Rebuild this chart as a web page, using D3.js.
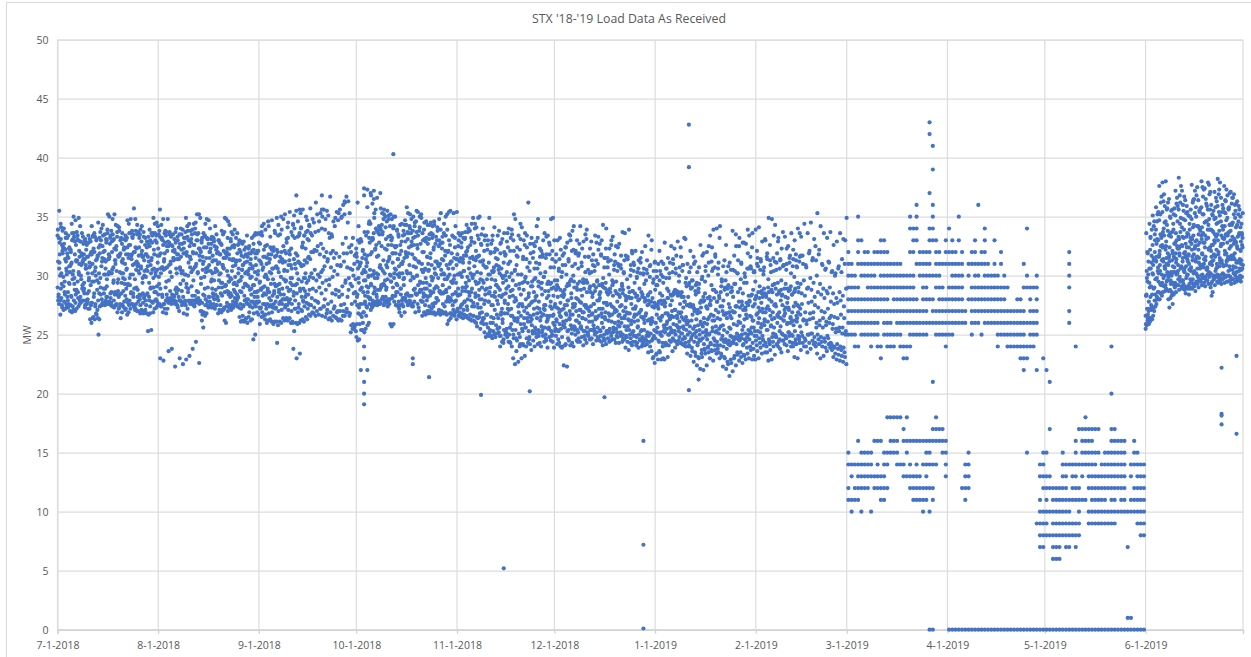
<!DOCTYPE html>
<html><head><meta charset="utf-8">
<script src="https://cdn.jsdelivr.net/npm/d3@7"></script>
<style>html,body{margin:0;background:#fff}svg{display:block}text{font-family:"Open Sans","Liberation Sans",sans-serif;fill:#595959}</style>
</head><body><div id="c"></div>
<script>
const chartTitle="STX '18-'19 Load Data As Received";
const yTicks=[0,5,10,15,20,25,30,35,40,45,50];
const monthTicks=["2018-07-01","2018-08-01","2018-09-01","2018-10-01","2018-11-01","2018-12-01","2019-01-01","2019-02-01","2019-03-01","2019-04-01","2019-05-01","2019-06-01","2019-07-01"];
// Readings by month, one row per day
const jul18=[
[29.0,27.6,26.7,28.2,31.8,33.9,35.5,34.4,33.2,30.0,27.9,31.1],
[28.9,27.3,27.1,29.3,32.4,34.1,33.8,34.0,32.6,29.9,28.1,31.9],
[27.8,27.2,27.4,28.4,30.6,32.3,33.6,33.2,32.2,30.4,29.5,31.2],
[28.2,27.6,27.0,27.3,29.3,31.6,32.3,32.2,31.5,30.3,28.6,30.8],
[27.5,26.9,27.1,28.2,30.1,32.0,33.6,35.0,34.4,33.1,31.0,29.7],
[27.9,27.0,27.2,28.8,31.3,33.3,34.7,33.7,32.9,31.2,29.8,28.4],
[28.6,27.4,27.9,28.6,31.0,33.1,34.9,34.2,33.0,31.6,29.5,30.1],
[28.2,27.8,27.9,29.7,31.2,32.9,33.6,32.7,31.9,31.1,30.0,28.9],
[28.7,27.3,27.6,28.5,30.9,31.8,33.1,32.8,31.4,30.6,29.4,27.9],
[27.6,27.2,27.2,28.0,29.8,31.6,32.8,33.1,31.6,30.7,28.5,29.6],
[26.3,26.0,26.4,27.5,30.2,31.8,34.2,33.4,32.0,31.0,29.2,27.7],
[26.5,26.3,26.8,28.5,30.7,32.3,33.3,33.0,32.0,30.0,29.5,27.4],
[26.7,26.4,26.3,27.1,29.4,31.4,34.5,33.2,31.7,30.2,28.8,25.0],
[27.4,27.5,27.7,29.0,31.2,32.6,34.0,34.3,33.0,31.5,29.8,28.0],
[27.6,27.7,27.9,28.5,30.1,32.0,33.5,33.1,31.4,30.6,28.9,27.5],
[28.2,27.7,27.6,28.2,31.4,33.0,35.2,35.0,33.6,31.8,29.7,30.1],
[27.8,27.5,27.4,28.5,30.2,32.7,33.8,34.8,33.4,32.0,30.2,28.6],
[27.4,27.3,27.5,29.6,31.3,33.0,35.2,34.3,33.1,31.3,29.4,28.4],
[27.5,26.9,27.2,28.4,29.7,32.5,34.2,34.1,33.7,31.6,30.4,28.7],
[27.3,26.4,26.9,27.6,29.4,31.7,33.2,33.6,33.0,31.2,30.3,28.5],
[27.5,27.3,27.1,28.7,29.7,31.4,32.4,33.4,32.2,31.0,30.2,29.3],
[27.2,26.7,26.9,28.0,29.3,31.8,34.7,34.4,33.2,31.8,30.5,29.2],
[27.5,27.2,27.6,29.2,31.7,33.6,34.8,33.8,32.6,31.4,29.8,28.5],
[27.6,27.4,27.1,28.5,31.0,33.2,35.7,34.8,33.5,32.0,30.1,28.9],
[27.2,27.0,27.8,29.0,30.8,33.8,34.3,33.7,32.3,31.0,30.5,28.2],
[27.0,26.8,27.1,28.4,30.6,32.4,33.9,34.2,33.5,31.8,30.2,28.3],
[27.0,26.8,27.0,28.5,30.0,31.6,33.3,32.6,31.6,30.4,29.8,28.1],
[27.1,26.8,25.3,27.5,30.4,31.8,32.9,33.3,31.8,30.8,29.9,28.4],
[26.7,26.8,25.4,27.9,29.0,31.2,33.0,33.6,32.5,30.2,29.4,28.9],
[27.8,26.9,27.2,29.0,30.6,32.8,34.9,34.4,33.6,31.8,30.5,29.0],
[27.9,27.3,27.5,28.6,30.5,33.0,34.5,34.2,33.4,31.7,30.0,29.1]];
const aug18=[
[28.4,27.6,27.4,29.3,30.6,33.5,35.6,34.3,33.8,31.9,29.9,23.0],
[27.4,26.9,27.6,28.2,30.5,33.2,34.8,33.6,33.0,31.2,30.7,22.8],
[27.2,26.8,27.2,29.0,30.7,32.8,33.7,34.8,33.4,32.1,30.6,28.4],
[27.8,27.9,28.1,29.6,30.3,32.5,33.7,33.3,32.8,31.0,23.6,28.0],
[27.6,27.9,28.2,28.4,31.5,32.6,33.5,33.1,32.5,31.3,23.8,27.9],
[27.9,27.8,27.5,28.8,30.2,32.0,34.0,33.3,32.8,31.4,22.3,29.0],
[27.3,27.0,27.9,28.2,30.7,31.8,33.5,34.0,32.4,30.5,28.8,23.0],
[27.8,27.7,26.8,28.7,29.6,32.2,33.9,33.2,32.7,31.9,30.2,22.5],
[27.7,27.5,26.7,27.9,29.3,31.9,34.9,34.2,33.7,32.0,30.1,22.9],
[27.2,27.9,27.6,28.9,31.6,33.8,34.4,33.8,33.0,31.6,30.0,23.2],
[27.8,27.6,27.5,29.1,30.5,32.8,33.9,34.4,33.5,31.9,30.3,23.8],
[27.9,27.7,28.0,28.3,31.0,32.6,34.5,35.2,34.0,33.0,30.7,24.4],
[27.8,27.7,27.9,28.6,31.7,33.0,35.2,34.9,33.6,32.3,30.3,22.6],
[27.0,26.2,25.6,27.0,30.5,32.0,33.2,33.6,32.8,31.0,29.8,26.7],
[26.9,26.6,26.8,28.3,30.3,32.4,34.4,34.8,33.4,31.5,29.9,28.0],
[27.5,27.3,27.8,29.0,30.9,33.1,34.7,34.0,33.1,32.0,30.7,28.2],
[27.4,27.3,28.2,29.5,30.2,32.3,33.3,33.2,32.7,31.7,30.4,28.9],
[27.6,27.2,27.5,28.0,30.6,33.1,34.2,33.5,32.5,31.3,29.6,28.4],
[27.5,26.8,27.1,28.2,29.6,31.9,33.0,32.8,32.0,31.1,30.4,29.0],
[27.0,26.9,27.1,28.5,29.4,31.8,33.8,33.5,32.7,30.9,30.2,29.0],
[27.1,26.2,26.0,27.2,29.2,31.5,34.9,34.8,33.7,31.9,30.6,29.1],
[27.4,27.0,27.3,28.7,29.5,32.0,34.6,34.3,33.2,31.8,30.4,28.6],
[27.5,27.1,27.3,28.5,30.4,32.3,33.7,33.5,32.9,31.3,29.8,28.3],
[27.8,27.5,27.7,28.8,29.9,31.4,33.9,33.2,32.6,30.9,29.3,28.1],
[27.6,27.4,27.3,28.4,29.5,31.2,32.6,33.0,31.9,30.6,29.2,28.2],
[26.5,26.1,26.2,27.6,29.9,31.3,32.9,32.7,32.0,30.5,29.6,28.6],
[26.6,26.1,26.3,27.5,29.3,30.9,32.2,32.4,31.6,30.2,29.0,27.9],
[26.4,26.0,26.5,27.7,29.1,30.3,31.6,31.9,31.2,30.1,29.2,28.0],
[26.9,26.2,26.3,27.4,28.9,30.6,31.9,32.1,31.0,29.9,28.8,27.8],
[27.3,26.8,25.0,24.6,28.6,30.8,33.4,33.6,32.2,30.3,29.2,27.6],
[27.4,26.9,26.7,27.8,28.7,30.9,32.1,33.6,31.9,30.4,29.7,28.2]];
const sep18=[
[27.8,27.2,26.5,25.9,28.8,31.3,33.5,34.2,32.7,31.0,29.4,27.3],
[26.9,26.6,26.3,27.6,29.1,30.5,32.2,32.5,31.6,29.9,29.0,28.5],
[26.7,26.0,26.2,27.2,28.9,30.1,31.5,31.8,31.0,29.7,28.4,27.6],
[26.8,26.3,26.1,27.4,29.3,31.1,32.4,32.2,31.4,30.2,28.6,27.5],
[26.9,25.9,26.1,27.3,28.7,30.6,32.1,31.6,30.6,29.3,28.3,27.6],
[27.2,26.1,25.8,27.3,29.2,30.7,32.2,33.4,31.7,30.6,29.1,24.3],
[27.0,26.1,26.0,27.6,28.4,30.3,31.6,32.0,31.2,29.9,28.8,27.8],
[27.1,26.4,26.2,28.0,29.7,31.4,32.5,32.1,31.1,30.4,28.9,28.0],
[27.3,26.4,26.2,27.5,29.0,31.2,32.8,33.2,31.9,30.4,29.5,28.1],
[27.1,26.4,26.0,27.7,29.4,30.9,31.8,32.3,31.3,29.8,28.7,28.0],
[27.0,26.0,25.3,26.1,28.6,30.6,34.3,34.0,33.4,31.4,29.8,23.8],
[27.2,26.0,25.9,27.2,29.3,31.0,36.8,33.3,31.9,30.2,29.2,23.0],
[26.9,26.0,26.2,27.6,28.7,31.2,35.6,34.0,33.4,31.0,29.7,23.4],
[27.1,26.3,26.1,27.0,28.9,30.8,32.8,33.4,32.5,30.9,29.5,27.9],
[27.4,26.5,26.3,28.2,29.4,31.3,33.7,33.1,32.3,31.1,29.8,28.4],
[27.2,26.7,26.6,27.6,29.9,31.5,34.2,33.6,33.0,31.4,29.6,28.8],
[27.5,26.9,26.8,28.1,29.8,32.0,34.8,34.5,33.4,32.0,30.2,28.9],
[27.3,26.6,27.0,27.9,29.6,32.2,36.2,35.2,33.7,32.1,30.5,28.7],
[27.8,26.7,27.2,27.7,29.9,32.5,34.6,35.3,33.8,31.8,30.1,29.0],
[27.2,26.6,27.4,28.5,30.5,32.7,35.0,35.6,34.0,32.3,30.3,29.4],
[27.4,26.5,26.8,28.0,29.6,31.6,34.8,35.5,33.9,32.0,30.8,28.8],
[27.1,26.3,26.4,27.6,29.7,31.2,33.6,36.7,35.1,33.2,31.4,29.2],
[26.9,26.2,26.6,27.8,29.9,31.9,33.3,34.6,33.5,32.1,30.7,28.5],
[27.2,26.5,26.4,27.4,28.8,31.5,34.9,35.4,34.2,31.9,30.4,28.4],
[26.9,26.2,26.3,27.0,28.2,30.9,35.3,35.6,34.7,31.6,30.1,28.7],
[27.0,26.2,26.6,27.5,29.1,30.8,35.0,36.0,34.9,32.7,30.9,28.4],
[27.0,26.6,26.9,27.6,29.6,31.9,36.2,36.7,35.2,33.2,31.2,29.4],
[27.2,26.9,26.6,28.2,29.8,31.9,36.3,35.3,34.5,32.4,30.7,28.8],
[26.8,25.8,25.5,25.2,29.1,30.6,32.6,33.2,32.0,30.5,29.3,27.6],
[25.9,25.7,25.3,25.5,28.6,30.0,31.7,32.3,31.0,29.7,28.5,27.8]];
const oct18=[
[24.8,24.5,24.6,27.5,29.8,31.6,33.0,32.8,31.2,29.4,28.2,26.8],
[25.9,25.4,25.4,26.7,29.0,31.0,32.9,32.1,31.1,30.2,28.8,27.6],
[26.0,25.2,25.5,26.9,28.3,30.3,31.8,31.4,30.5,29.6,28.6,27.6],
[26.6,25.8,26.0,27.3,29.0,30.8,33.7,33.2,31.7,30.0,29.1,28.2],
[27.6,27.1,27.3,28.1,30.0,32.8,36.8,36.1,34.4,32.0,30.5,29.2],
[27.9,27.5,27.7,28.5,29.8,33.1,35.3,35.6,33.6,32.2,30.1,29.0],
[27.8,27.5,27.7,28.2,30.1,32.6,33.8,34.2,33.8,31.7,30.2,28.8],
[27.6,27.7,28.0,28.8,30.6,33.5,35.7,35.3,34.0,32.5,30.7,29.0],
[28.1,27.5,27.9,29.3,30.2,33.7,35.6,35.0,34.8,32.3,30.4,29.2],
[28.2,27.7,28.0,29.0,31.2,33.1,35.5,35.1,34.6,32.6,30.9,29.7],
[27.9,25.9,25.7,28.0,29.5,31.4,35.2,34.8,34.2,33.0,31.6,30.0],
[28.1,25.9,28.3,29.0,30.2,31.9,35.0,35.0,34.0,32.5,31.1,29.8],
[28.3,27.5,27.4,28.6,30.1,31.9,33.9,33.5,32.5,31.4,30.5,29.2],
[27.8,27.5,26.6,26.9,28.4,30.8,32.6,32.9,31.8,31.0,29.9,28.9],
[27.9,27.4,26.9,28.1,29.8,31.0,33.8,34.3,33.4,31.5,30.2,29.2],
[28.1,27.8,27.5,28.4,30.2,32.9,35.8,35.3,34.3,33.7,32.0,31.6],
[27.7,27.9,27.5,28.3,29.6,31.9,35.2,34.8,34.2,33.6,32.4,30.2],
[28.3,27.4,27.8,27.6,29.8,32.6,35.0,34.2,33.8,32.6,31.8,30.8],
[28.9,28.4,27.6,28.5,30.0,33.3,35.5,35.4,34.6,32.6,31.4,30.0],
[29.2,28.6,27.9,27.0,28.8,31.2,35.0,35.2,33.8,32.7,31.2,29.5],
[28.8,27.8,26.9,26.6,28.5,30.5,33.0,34.5,33.6,32.0,31.0,29.4],
[28.9,28.3,27.0,26.7,27.9,30.5,33.2,34.3,32.9,31.6,30.6,29.4],
[28.2,27.4,26.9,27.0,28.7,31.0,34.3,34.5,33.1,31.5,30.4,29.2],
[28.5,27.6,26.9,26.8,27.4,29.9,33.5,34.6,33.2,32.2,30.9,29.8],
[28.9,27.7,26.8,26.7,28.1,30.6,33.3,34.1,32.7,31.2,30.2,29.1],
[29.0,27.1,26.7,26.9,28.6,31.0,33.0,33.9,32.5,31.0,29.8,28.7],
[28.5,26.9,26.8,27.0,28.5,30.5,32.8,33.6,32.3,31.3,30.1,29.2],
[28.6,26.9,26.7,26.8,27.8,30.1,33.4,35.2,32.1,30.9,29.7,28.6],
[25.9,26.2,26.8,28.2,30.1,32.0,33.0,35.5,32.1,31.0,29.9,29.0],
[26.4,26.7,27.1,27.9,29.4,31.2,33.4,35.3,31.9,30.6,29.5,28.4],
[26.7,26.9,26.3,27.8,29.4,31.5,34.2,35.4,33.2,31.4,30.0,28.6]];
const nov18=[
[27.0,26.6,26.7,28.3,30.1,31.8,33.0,33.4,32.5,31.2,30.1,28.4],
[27.3,26.8,26.4,27.5,29.0,31.5,33.6,33.2,32.4,31.4,30.2,28.7],
[27.1,26.5,26.6,27.8,29.4,31.7,33.7,34.3,33.1,32.0,30.4,29.0],
[27.4,26.4,26.3,28.0,29.6,32.1,34.0,33.8,32.4,31.1,29.9,28.6],
[26.7,26.2,26.6,27.9,30.0,32.6,34.4,34.9,33.2,31.6,30.2,28.9],
[26.6,26.1,26.0,27.4,29.5,31.4,34.4,34.1,32.8,31.3,30.1,28.5],
[26.5,26.4,26.5,27.6,29.4,31.6,34.9,35.0,33.4,31.7,30.3,28.3],
[26.8,26.0,26.2,27.3,29.0,31.2,33.5,34.0,32.7,31.2,29.7,28.0],
[26.4,25.2,24.8,26.4,28.8,30.9,33.0,33.4,32.1,30.7,29.4,27.9],
[25.9,25.0,24.9,26.7,28.5,30.7,33.0,34.9,32.6,31.1,29.7,27.8],
[25.2,24.9,24.7,26.0,28.3,30.1,32.7,33.4,32.0,30.4,29.0,27.5],
[26.0,25.0,24.8,26.4,28.6,30.3,32.0,31.5,30.7,29.6,28.3,27.1],
[25.8,25.5,25.2,26.7,29.0,30.9,33.4,33.8,32.2,30.5,29.2,27.6],
[25.6,24.9,24.4,24.0,28.2,30.2,32.8,33.1,31.9,30.0,28.8,26.9],
[26.0,25.4,25.0,24.3,27.9,29.8,32.0,31.8,31.1,30.0,28.4,26.8],
[25.2,24.8,24.4,25.5,27.6,29.6,33.6,34.0,32.9,31.0,28.9,27.2],
[25.0,24.3,24.0,25.6,27.2,29.9,33.2,33.5,32.1,30.2,28.2,26.6],
[25.4,24.7,22.5,23.0,26.2,28.8,35.2,34.8,33.0,30.4,28.3,26.4],
[25.4,24.5,22.7,23.6,26.4,29.2,32.4,33.4,31.7,30.1,27.9,26.1],
[25.1,24.2,23.0,24.0,26.6,28.9,34.4,34.1,32.2,30.1,27.6,25.9],
[25.5,24.1,23.2,24.2,27.0,29.4,33.0,33.6,31.6,29.5,27.4,25.9],
[25.6,24.7,24.3,24.0,26.8,29.9,32.4,36.2,31.4,29.4,28.0,26.4],
[25.3,24.2,23.7,24.8,26.5,28.5,32.7,33.2,31.1,29.1,27.5,26.1],
[25.8,24.5,24.0,25.3,27.2,29.5,32.0,32.5,31.5,29.7,27.8,26.7],
[25.6,24.8,24.2,25.1,27.3,29.8,34.2,34.8,32.9,30.6,28.2,26.4],
[25.4,24.3,24.0,25.2,26.9,29.1,31.6,32.1,31.0,29.4,27.8,26.2],
[25.7,24.9,24.4,25.4,27.2,29.4,33.0,33.6,31.8,29.9,28.4,26.7],
[25.6,24.5,23.9,25.0,26.6,28.7,31.8,33.4,31.5,29.3,27.5,26.1],
[25.5,24.8,24.5,25.6,27.4,29.5,32.6,34.8,32.8,30.7,28.3,26.6],
[25.3,24.4,23.9,25.0,26.7,28.9,34.9,33.0,31.4,29.0,27.2,26.0]];
const dec18=[
[25.8,24.9,24.2,25.5,27.3,29.6,31.8,33.0,31.2,29.2,27.6,26.3],
[25.4,24.3,24.0,25.3,26.6,29.0,31.4,32.2,30.6,28.8,27.2,25.9],
[25.5,24.0,22.4,23.9,26.1,28.3,30.9,31.9,30.3,28.2,27.1,25.8],
[25.9,24.2,22.3,24.1,26.7,28.8,32.4,32.8,30.9,29.1,27.5,26.2],
[25.3,24.5,24.1,25.4,27.0,29.3,33.5,33.0,31.2,29.5,27.9,26.4],
[25.8,24.3,24.0,25.5,27.6,29.7,33.8,34.2,32.1,30.0,28.1,26.7],
[25.7,25.0,24.5,25.6,27.0,29.0,32.1,33.0,31.0,29.0,27.4,26.2],
[25.4,24.7,24.4,25.2,27.1,29.3,31.9,34.2,31.7,29.5,28.0,26.0],
[25.6,24.8,24.1,25.5,26.9,28.8,32.3,32.9,30.8,29.4,27.7,26.4],
[25.3,24.6,24.3,25.3,27.3,28.9,33.5,33.9,31.6,29.6,27.5,26.3],
[25.6,24.9,24.6,25.1,27.0,29.4,31.6,32.3,30.5,28.9,27.2,26.6],
[25.4,24.7,24.2,25.4,26.8,28.6,31.3,31.8,30.3,28.5,27.4,26.1],
[25.8,25.0,24.5,25.3,27.0,29.2,33.4,32.8,30.8,29.0,27.6,26.5],
[25.2,24.7,24.5,25.6,27.2,29.5,32.2,32.7,31.0,29.2,27.9,26.6],
[25.4,24.4,24.1,24.9,26.5,28.6,33.0,34.3,31.7,29.1,27.2,26.0],
[25.6,24.5,24.2,25.0,26.9,29.0,31.5,34.0,31.5,29.4,27.7,26.3],
[25.3,24.7,24.4,25.3,26.8,28.6,31.2,32.3,30.7,28.8,27.5,26.2],
[25.5,24.9,24.6,25.2,26.7,28.9,33.0,33.3,31.3,29.6,27.6,26.1],
[25.2,24.6,24.3,25.4,27.0,29.4,31.8,32.5,30.9,28.7,27.3,26.0],
[25.5,24.8,24.3,25.2,26.6,28.5,31.0,32.7,30.4,28.4,27.0,25.8],
[25.7,24.9,24.4,25.1,26.4,28.2,30.6,33.7,30.9,29.3,27.4,26.0],
[25.0,24.6,23.9,24.7,26.6,28.8,31.3,31.7,30.2,28.3,27.0,25.7],
[24.9,24.4,23.7,24.8,26.3,28.1,31.6,33.9,31.4,29.0,26.9,25.7],
[25.4,24.7,24.1,25.0,26.2,28.6,30.5,31.9,30.0,28.1,26.8,25.9],
[25.2,24.9,24.4,25.3,26.7,28.7,30.9,32.1,30.4,28.5,27.2,26.1],
[24.9,24.3,23.9,24.8,26.2,28.2,30.3,31.3,29.8,27.9,26.7,25.6],
[25.0,24.5,24.0,24.6,26.5,28.0,31.1,32.0,30.2,28.6,26.9,25.3],
[24.8,24.4,24.1,24.7,26.0,28.4,30.6,32.5,30.1,28.1,26.5,25.4],
[24.6,24.2,23.5,24.5,26.2,27.9,30.2,33.4,30.5,28.3,26.8,25.2],
[24.9,24.0,23.6,24.4,25.9,27.6,30.9,33.0,29.9,27.8,26.3,25.1],
[24.5,23.1,22.6,23.0,25.4,27.4,30.4,31.2,29.4,27.7,26.1,24.9]];
const jan19=[
[24.7,23.4,22.9,23.3,25.6,27.5,29.9,31.0,29.2,27.4,26.0,25.2],
[24.5,23.5,22.9,23.6,25.2,27.8,30.4,31.2,29.6,27.9,26.4,25.0],
[24.9,23.0,22.9,24.3,25.8,27.6,31.0,32.8,29.9,27.9,26.6,25.3],
[25.2,24.2,23.1,24.1,26.1,27.7,30.6,31.5,29.8,28.1,26.8,25.5],
[25.0,24.5,24.4,25.0,26.4,28.7,31.1,32.5,30.2,28.4,26.6,25.6],
[25.4,24.7,24.5,25.2,26.5,28.3,31.0,32.3,30.3,28.6,27.0,25.9],
[25.3,24.4,24.2,25.0,26.6,28.8,31.7,32.9,30.6,28.5,27.1,25.8],
[25.6,24.8,24.3,25.3,26.8,28.6,30.7,31.6,30.0,28.4,26.9,25.6],
[25.1,24.6,24.1,25.1,26.3,28.2,30.9,33.2,30.4,28.2,26.5,25.7],
[24.8,24.0,23.4,24.3,25.9,27.8,29.8,31.0,29.4,27.5,26.2,25.4],
[25.0,24.1,23.2,24.0,25.7,27.5,29.4,30.7,29.2,27.6,26.1,25.2],
[24.6,23.6,22.7,23.9,25.5,27.4,29.6,31.0,29.0,27.3,26.2,25.0],
[24.4,23.2,22.4,23.5,25.3,27.0,29.2,30.3,28.7,27.0,25.7,24.8],
[24.1,23.0,22.1,23.1,25.0,27.1,29.3,32.6,28.9,26.9,25.8,24.6],
[24.5,23.1,22.0,23.4,25.2,27.3,31.7,31.9,29.7,27.8,25.9,24.7],
[24.2,23.4,22.4,23.7,25.4,27.9,30.8,32.0,29.5,27.4,26.0,24.9],
[24.6,23.5,23.0,23.9,25.1,27.2,32.5,33.4,30.0,28.2,26.3,25.0],
[24.3,23.6,22.8,23.7,25.6,27.9,30.4,33.9,31.2,28.8,26.7,25.3],
[24.7,23.7,23.4,24.1,25.7,28.1,31.6,34.0,30.7,28.6,26.2,25.2],
[24.4,23.5,23.0,23.8,25.5,27.8,31.1,34.2,30.6,28.1,26.4,25.1],
[24.1,23.2,22.3,23.4,24.9,27.4,29.5,30.8,29.1,27.0,25.7,24.6],
[24.0,23.0,22.1,23.1,24.6,26.7,29.0,30.3,28.8,26.8,25.4,24.4],
[23.8,22.5,21.5,22.7,24.5,26.4,29.2,31.1,28.9,26.9,25.2,24.2],
[24.1,22.6,21.9,22.9,24.8,26.6,29.0,30.5,28.6,27.0,25.5,24.3],
[24.3,23.2,22.4,23.0,24.7,26.9,30.4,32.5,29.3,27.4,25.9,24.8],
[24.2,23.3,22.8,23.5,24.9,27.4,31.3,33.2,30.2,27.8,25.8,24.6],
[24.5,23.1,22.6,23.5,25.0,27.3,31.0,32.8,29.7,27.5,26.0,24.7],
[24.1,23.2,22.9,23.3,25.1,27.1,30.2,32.7,29.4,27.3,25.7,24.6],
[24.4,23.4,23.0,23.9,25.4,27.7,31.9,33.4,30.6,28.3,26.4,25.0],
[24.6,23.7,22.9,24.0,25.6,27.8,30.6,33.6,30.8,28.4,26.6,25.1],
[24.3,23.2,22.9,23.8,25.3,27.4,30.3,33.9,30.3,28.0,26.2,24.9]];
const feb19=[
[24.5,23.6,23.0,24.1,26.0,28.3,31.5,34.1,31.0,28.6,26.7,25.3],
[24.7,23.9,23.4,24.3,25.9,28.1,31.2,32.9,30.5,28.7,27.0,25.6],
[24.9,24.1,23.5,24.5,26.3,28.2,30.7,33.0,30.4,28.5,26.9,25.8],
[24.3,23.5,22.8,24.0,26.1,28.4,31.4,34.9,31.6,29.0,27.2,25.4],
[24.6,23.7,22.9,24.2,25.8,28.0,30.9,34.8,31.3,28.8,27.1,25.7],
[24.8,24.0,23.3,24.4,26.4,28.6,30.4,34.3,31.5,29.3,26.9,25.6],
[25.0,24.2,24.0,24.8,26.6,28.9,31.9,33.2,31.1,29.4,27.4,26.0],
[24.4,23.8,23.5,24.6,26.4,28.5,31.4,32.3,30.6,28.8,26.9,25.7],
[25.1,24.5,24.2,25.0,26.6,28.4,30.9,33.3,30.8,28.9,27.5,26.2],
[24.9,24.1,23.6,24.7,26.0,28.2,31.0,32.5,30.5,28.9,27.3,25.9],
[25.2,24.4,24.0,24.9,26.5,28.7,31.7,33.6,31.1,29.1,27.1,26.0],
[25.0,24.0,23.1,24.3,26.2,28.4,31.4,33.0,30.8,28.6,26.9,25.8],
[25.3,24.2,23.0,24.6,26.4,28.9,30.8,34.0,31.3,29.4,27.7,26.1],
[24.9,24.3,23.7,24.8,26.7,29.0,31.6,33.3,31.2,29.3,27.4,25.7],
[25.2,24.3,24.0,24.9,26.3,28.5,31.0,34.4,31.7,29.6,27.6,26.2],
[24.7,24.0,23.5,24.5,26.2,28.3,30.7,33.6,30.9,28.9,26.9,25.9],
[25.0,24.3,23.8,25.0,26.8,29.0,32.1,34.5,31.9,29.8,27.7,26.3],
[25.1,24.5,24.2,25.1,26.9,28.8,31.5,33.1,31.3,29.4,27.8,26.4],
[24.8,24.0,23.4,24.3,26.0,28.2,31.3,35.3,32.5,30.0,27.5,25.6],
[25.0,24.2,23.0,24.6,26.2,28.6,32.2,34.2,31.8,29.3,27.3,25.8],
[24.8,24.0,23.2,24.4,26.4,28.4,30.9,33.6,31.0,28.9,27.0,25.6],
[24.7,23.9,23.6,24.4,26.1,28.1,30.6,33.2,30.5,28.7,26.9,25.8],
[24.9,24.2,23.9,24.7,26.4,28.5,31.1,33.7,31.2,29.0,27.2,26.0],
[24.3,23.7,23.1,24.2,25.9,27.8,30.4,32.6,30.3,28.5,26.6,25.5],
[24.0,23.4,22.9,23.9,25.5,27.6,30.2,32.9,30.0,28.1,26.5,25.2],
[24.2,23.3,22.8,23.8,25.6,27.7,30.8,33.6,30.6,28.6,26.4,25.3],
[24.0,23.2,22.7,23.7,25.6,27.9,31.4,33.1,30.3,28.3,26.7,25.1],
[23.9,23.1,22.5,23.5,25.3,27.4,33.0,34.9,31.0,28.9,26.4,25.0]];
const jun19=[
[25.5,25.8,26.2,27.0,28.4,29.5,31.2,33.6,32.0,30.1,28.3,27.2,26.4,25.9,29.8,26.7],
[25.9,26.1,26.4,27.3,29.0,30.6,33.9,34.4,33.3,31.1,29.4,28.2,27.1,26.3,32.2,27.5],
[26.3,26.6,27.0,28.4,30.1,31.3,33.0,35.1,34.2,32.0,30.2,28.9,27.9,27.2,31.5,29.0],
[27.4,27.6,28.1,29.5,31.2,33.1,35.4,35.8,34.6,33.0,31.3,29.8,28.6,27.9,32.7,30.4],
[28.0,28.0,28.5,30.1,31.8,33.5,36.7,37.6,35.2,33.4,31.6,30.4,29.2,28.6,30.9,32.5],
[28.3,28.6,29.1,30.6,32.4,34.0,35.9,37.9,36.3,34.5,32.6,31.2,30.0,29.4,31.4,33.4],
[28.7,28.9,29.6,30.9,32.5,34.3,36.2,38.0,35.6,33.8,32.2,31.0,30.1,29.2,31.5,30.3],
[28.0,27.3,28.1,30.0,31.7,33.6,35.5,36.5,35.0,33.3,31.5,30.2,29.3,28.7,32.4,29.6],
[28.3,27.6,28.4,30.3,32.1,33.9,35.7,35.6,34.4,32.7,31.3,30.3,29.2,28.6,30.8,31.6],
[29.0,28.6,29.2,30.4,31.9,33.0,35.9,37.2,36.1,34.6,32.8,31.4,30.2,29.4,31.1,32.5],
[29.2,28.8,29.5,30.7,32.3,34.4,37.6,38.3,36.8,34.9,33.3,31.7,30.6,29.7,31.9,33.7],
[29.1,28.9,29.3,30.6,32.5,34.8,36.7,37.2,36.0,33.9,32.6,31.5,30.4,29.6,31.2,33.2],
[28.8,28.5,29.0,30.1,31.6,33.3,35.4,36.4,35.3,33.6,32.0,30.8,30.0,29.1,31.7,32.4],
[28.9,28.4,28.9,30.4,31.8,33.9,35.6,35.1,34.4,33.2,31.7,30.5,29.7,29.1,31.0,32.9],
[29.0,28.9,29.3,30.3,32.2,34.1,36.5,37.7,36.2,34.3,32.7,31.3,30.2,29.5,31.6,33.4],
[29.1,28.7,29.5,30.6,32.5,35.0,37.5,37.2,35.8,34.2,32.3,31.2,30.1,29.3,31.4,33.0],
[29.3,29.0,29.7,30.9,32.2,34.0,35.7,36.4,35.5,33.8,32.6,31.5,30.6,29.9,31.1,32.8],
[29.5,29.2,29.8,31.0,33.1,35.2,37.3,38.0,37.5,35.2,33.4,31.8,30.7,30.0,31.9,33.6],
[29.4,29.1,29.6,30.7,32.4,34.6,35.9,37.4,36.5,34.6,32.8,31.6,30.5,29.8,31.3,33.1],
[29.6,29.3,29.9,31.1,33.2,34.8,37.1,37.9,37.7,35.6,33.9,32.2,31.0,30.1,32.3,33.9],
[29.0,28.3,28.6,29.8,31.6,33.8,35.5,36.0,35.2,33.7,32.1,30.9,30.0,29.3,31.2,32.6],
[29.7,29.2,29.9,31.0,32.8,34.9,36.3,37.1,35.8,34.4,33.0,31.7,30.6,30.0,31.6,33.3],
[29.5,29.4,30.0,31.3,33.0,35.4,37.9,38.2,36.9,35.1,33.5,32.0,30.8,30.1,31.8,33.8],
[29.6,29.3,29.7,30.9,32.7,34.2,35.7,36.6,35.4,33.9,32.5,31.1,30.2,29.8,31.3,33.2],
[29.8,29.4,29.9,31.2,33.2,35.3,37.3,37.6,36.4,34.7,33.1,31.8,30.9,30.1,32.1,33.5],
[29.5,29.5,30.0,31.4,33.4,35.6,37.0,36.8,35.7,34.3,32.8,31.6,30.8,30.0,31.5,33.7],
[29.6,29.3,29.7,30.8,32.5,34.3,36.6,37.1,36.1,34.5,33.0,31.4,30.5,29.9,31.7,33.3],
[29.7,29.4,30.0,31.1,33.0,34.9,36.1,36.9,36.0,34.1,32.7,31.9,30.7,30.2,31.4,32.9],
[29.5,29.6,29.8,30.6,32.3,34.6,35.6,36.3,35.2,33.6,32.5,31.2,30.4,29.8,31.2,33.4],
[29.7,29.5,29.9,30.9,32.1,33.6,35.3,35.0,34.4,33.2,32.2,31.3,30.6,30.0,31.0,32.6]];
// Second set of readings, six a day: Jul 2018 to Feb 2019 in day order, then Jun 2019
const midFirstHalf=[
33.4,31.2,28.4,30.6,32.8,27.9, 33.1,30.2,27.5,32.1,34.0,29.1, 32.7,28.6,31.4,33.2,27.6,30.1, 31.9,27.9,33.4,29.4,32.4,30.8,
32.2,28.3,31.1,33.0,27.4,30.4, 33.6,29.3,31.8,27.7,32.6,28.8, 31.3,33.4,28.1,30.3,32.1,27.6, 32.9,27.8,30.9,31.7,29.2,33.3,
31.4,28.9,33.0,27.5,30.6,32.2, 32.6,27.8,30.2,33.4,28.7,31.1, 30.8,32.9,27.7,31.8,29.5,33.3, 32.1,28.2,33.6,30.4,27.6,31.3,
33.1,29.6,31.6,27.9,32.4,28.5, 31.9,33.7,28.4,30.8,27.5,32.5, 33.4,27.7,30.1,32.1,28.9,31.2, 32.8,29.1,33.9,27.6,31.4,30.3,
31.6,33.2,28.1,27.7,32.9,30.5, 33.5,30.7,27.9,32.3,28.6,31.0, 32.2,27.6,33.3,29.4,31.7,28.2, 33.8,28.4,31.9,27.5,30.2,32.7,
31.1,29.8,33.1,27.8,32.3,28.3, 33.0,28.9,30.6,32.4,27.7,31.5, 32.6,27.9,33.6,30.1,28.6,31.8, 33.3,30.9,28.2,32.0,27.4,29.7,
32.4,27.6,31.2,33.5,28.8,30.4, 31.7,33.2,28.0,27.5,30.8,32.9, 32.1,29.4,27.7,33.7,31.3,28.3,
33.2,27.9,30.5,32.4,28.5,31.6, 32.7,28.2,33.9,27.4,30.9,31.3, 31.5,33.4,27.7,29.8,32.2,28.6, 33.6,30.3,28.0,32.8,27.8,31.1,
32.3,27.5,31.7,33.3,28.9,30.2, 33.1,28.4,30.7,32.6,27.6,31.4, 31.9,33.8,27.9,29.5,32.5,28.1, 32.9,27.7,30.9,33.5,28.7,31.2,
33.4,29.9,27.8,32.1,31.5,28.3, 32.2,27.6,33.7,30.6,28.5,31.8, 33.0,28.8,31.4,27.9,32.7,29.3, 31.6,33.5,27.5,30.4,28.2,32.3,
32.8,27.7,30.1,33.2,29.0,31.7, 33.3,28.6,31.1,27.8,32.5,30.7, 31.4,33.1,27.9,28.3,32.0,29.6, 32.6,27.4,33.6,30.8,31.9,28.7,
33.5,30.2,28.1,32.3,27.6,31.3, 32.1,29.3,33.0,27.7,31.6,28.4, 31.2,33.3,28.9,27.5,30.6,32.4, 33.2,27.8,30.4,32.7,28.2,31.5,
32.0,27.6,33.1,29.7,31.2,28.5, 31.3,32.9,27.4,30.3,28.8,32.2, 32.4,28.1,31.0,27.9,33.0,30.1, 31.8,27.5,29.4,32.6,28.3,30.9,
30.7,32.1,27.3,28.6,31.5,29.2, 31.6,27.7,32.3,30.0,28.4,29.5,
31.4,28.2,33.1,29.7,27.5,32.5, 30.8,27.3,32.4,29.4,28.6,31.2, 31.3,27.9,33.6,28.1,30.2,32.7, 32.2,28.7,29.6,27.2,31.7,30.5,
30.9,27.4,32.9,28.3,31.1,29.3, 31.8,28.0,33.4,27.6,30.4,32.3, 32.5,27.5,29.8,31.4,28.4,33.2, 30.6,27.8,32.7,29.2,28.2,31.9,
31.5,28.6,33.5,27.7,30.1,32.1, 32.8,27.3,29.5,31.2,28.9,33.7, 33.4,28.3,30.7,34.4,27.6,31.6, 33.9,27.5,29.9,32.6,28.7,34.6,
34.2,28.1,30.3,33.3,27.9,31.8, 34.7,27.4,29.7,32.4,28.5,33.8, 33.6,27.8,30.8,34.9,28.2,32.0, 34.3,28.6,29.3,33.5,27.7,35.0,
33.9,27.6,31.3,34.8,28.4,30.5, 35.2,28.0,29.6,33.1,27.5,34.1, 34.5,27.9,32.1,35.4,28.8,30.9, 33.7,27.6,29.2,34.4,28.3,35.1,
33.2,27.9,30.6,35.5,28.5,31.7, 34.6,27.3,31.1,33.6,28.9,35.3, 34.1,28.2,32.4,35.6,27.8,29.8, 33.4,28.7,30.2,35.0,27.7,34.7,
33.8,28.4,31.6,34.3,27.5,35.7];
const midSecondHalf=[
31.9,25.9,28.4,30.6,34.2,27.3, 30.8,27.6,33.1,28.9,26.5,31.5, 32.2,26.9,29.6,33.7,27.8,30.3,
33.4,27.4,31.1,28.6,29.9,34.4, 34.6,28.0,31.8,29.3,27.5,33.0, 33.2,27.7,30.4,34.9,28.7,32.3, 34.0,28.4,31.6,29.8,27.9,33.6,
32.8,27.6,30.9,33.9,29.2,34.3, 33.5,28.2,31.3,35.2,27.7,29.6, 34.1,28.8,32.2,30.7,27.4,33.3, 34.8,27.6,30.1,33.4,29.5,32.6,
33.2,28.3,31.9,34.2,27.8,30.6, 32.4,27.5,29.3,33.8,28.6,31.4, 33.3,27.2,30.2,34.3,28.9,32.1, 34.4,27.6,31.2,29.7,28.1,33.5,
34.7,27.9,31.8,30.4,28.5,33.1, 33.6,28.3,30.9,34.0,27.7,32.5, 32.9,27.4,29.9,33.2,28.8,31.5, 34.5,26.9,30.7,33.7,28.4,32.3,
33.4,27.3,31.1,34.1,28.7,29.4, 34.9,27.8,32.0,30.3,28.2,33.9, 33.1,27.5,29.8,34.6,28.9,31.6, 32.7,26.8,30.5,33.5,28.3,31.9,
33.6,27.2,29.6,34.2,28.6,32.4, 34.3,27.7,31.2,30.1,28.1,33.0, 33.8,27.9,30.8,34.8,28.7,32.7, 35.3,28.5,31.4,33.3,27.6,30.2,
34.4,27.4,31.7,35.0,28.8,29.7, 33.9,28.0,30.6,35.4,27.8,32.6,
28.1,26.8,31.2,29.4,27.5,33.3, 29.7,26.6,32.4,28.5,27.9,30.9, 31.4,27.2,28.9,33.6,26.9,30.2, 28.4,26.5,32.8,29.9,27.6,31.1,
30.4,26.7,27.8,33.2,28.7,31.7, 29.1,27.1,33.7,26.4,30.6,28.3, 31.5,26.3,28.6,32.9,27.4,29.8, 27.7,26.2,30.8,34.0,28.2,32.1,
29.3,25.7,31.6,27.3,33.1,28.8, 28.0,25.5,30.2,32.6,26.9,29.6, 31.3,25.9,27.6,33.4,28.4,30.7, 26.7,28.9,32.2,25.6,30.1,27.8,
28.6,25.4,31.9,26.5,29.7,33.0, 27.5,25.3,30.4,34.1,28.2,32.3, 29.2,25.1,27.9,31.4,26.4,30.8, 28.3,24.9,32.7,26.7,30.6,27.2,
26.3,29.4,24.6,33.6,27.7,31.7, 28.5,25.2,30.3,26.8,32.4,29.1, 27.1,24.4,31.2,28.7,25.9,33.9, 26.6,29.6,25.0,32.1,27.8,30.5,
28.1,24.7,30.9,26.2,31.6,27.4, 26.9,29.3,24.8,33.1,28.4,30.1, 27.6,25.3,31.4,28.8,26.4,32.6, 29.8,25.6,27.3,33.4,30.7,26.1,
28.2,24.6,30.4,26.6,31.9,27.7, 26.3,29.1,25.1,32.7,28.6,30.6, 27.9,25.4,31.1,28.3,26.8,33.2, 29.5,24.9,27.2,32.3,30.2,26.5,
28.9,25.2,31.6,26.7,29.9,27.5, 27.1,30.3,24.7,33.3,28.1,26.2, 26.4,28.7,25.5,31.8,29.3,27.8,
29.4,24.9,32.1,26.6,28.3,30.7, 27.4,25.3,31.2,28.8,26.1,29.6, 28.2,24.6,30.4,26.9,33.2,27.7, 26.5,29.9,24.8,31.7,28.6,27.2,
28.4,25.6,32.4,26.8,30.1,27.5, 27.9,24.7,31.4,29.2,26.3,33.4, 26.7,28.5,25.1,30.8,27.3,32.2, 29.5,25.4,27.6,31.9,28.1,26.2,
28.8,24.4,30.6,26.6,32.7,27.8, 27.1,25.7,31.1,28.3,26.4,29.7, 26.9,29.4,24.9,30.3,27.5,33.1, 28.6,25.2,27.3,31.6,26.1,30.2,
29.1,24.6,32.9,26.7,28.2,30.9, 27.6,25.5,30.4,28.7,26.3,31.3, 26.4,29.6,24.8,33.3,27.9,28.4, 28.1,25.3,31.8,26.8,29.3,27.2,
29.8,24.7,30.7,26.5,28.9,32.3, 27.7,25.1,31.5,28.4,26.2,30.1, 26.6,28.6,24.5,32.6,27.4,29.2, 28.3,25.6,30.5,26.9,31.2,27.1,
29.5,24.9,27.8,32.4,26.1,30.8, 26.7,28.8,25.2,31.7,27.5,29.1, 28.5,24.6,30.3,26.4,33.6,27.3, 27.9,25.4,29.7,31.4,26.8,28.2,
26.2,28.1,24.3,30.9,27.6,32.1,
28.7,24.4,31.1,26.5,29.4,27.2, 27.4,24.1,29.9,28.3,25.7,30.6, 26.8,28.9,24.6,31.5,27.1,25.4, 28.2,24.2,30.2,26.3,29.3,27.8,
26.6,29.6,24.9,31.3,27.5,28.4, 27.9,25.1,30.8,28.6,26.1,32.2, 26.4,28.1,24.7,29.7,27.3,31.1, 28.8,25.3,30.4,26.7,29.2,27.6,
27.2,24.4,32.1,28.5,26.2,30.1, 26.5,28.3,24.0,29.4,27.7,25.6, 27.4,24.3,30.6,25.9,28.9,26.8, 28.1,24.1,29.8,26.3,27.5,25.2,
26.6,27.9,23.6,31.4,28.4,25.3, 27.1,23.9,30.2,25.8,28.7,26.4, 28.3,24.5,29.5,26.1,27.6,32.4, 26.9,28.6,24.2,30.9,27.3,25.5,
27.8,24.7,33.1,26.5,29.1,25.9, 26.2,28.2,24.4,30.3,27.4,32.1, 28.9,24.8,29.6,26.7,27.5,31.6, 27.2,25.1,31.2,28.4,26.3,29.4,
26.8,24.3,28.6,30.7,25.4,27.7, 26.1,27.9,23.7,29.9,25.7,28.2, 26.4,23.8,28.5,30.4,25.2,27.3, 25.9,28.1,24.0,31.1,26.5,27.6,
27.5,24.2,29.2,32.4,26.2,30.6, 26.6,28.8,24.5,31.8,27.1,25.3, 27.8,24.1,30.1,26.9,28.3,33.2, 26.3,28.6,24.6,29.7,27.4,25.8,
27.9,24.4,31.3,26.7,29.6,32.6, 26.8,28.4,24.3,30.8,27.6,25.6, 27.3,24.9,30.5,26.4,28.7,33.8,
28.2,24.5,31.7,26.9,29.3,33.5, 27.4,25.1,30.2,28.6,26.1,32.5, 26.6,28.9,24.7,31.1,27.8,25.4, 28.5,24.2,32.8,26.3,29.9,27.1,
26.7,29.4,24.8,33.9,27.5,30.6, 27.9,25.3,31.6,28.3,26.5,32.4, 26.2,28.8,25.6,30.4,27.6,29.5, 28.1,24.9,32.1,26.8,30.8,27.3,
26.4,29.1,25.2,31.4,27.7,28.5, 27.2,24.6,30.1,28.9,26.1,33.1, 26.9,28.2,25.4,31.9,27.4,29.7, 28.6,24.4,32.6,26.6,30.3,27.8,
26.3,29.2,25.1,33.4,27.5,31.2, 27.6,24.8,30.5,28.4,26.7,32.9, 26.5,28.7,25.3,31.3,27.9,29.6, 28.3,24.5,33.7,26.2,30.9,27.1,
26.8,29.3,24.7,32.3,27.7,28.1, 27.3,25.2,31.5,28.8,26.4,30.2, 26.1,28.4,24.9,32.2,27.4,29.9, 28.7,24.3,31.8,26.6,30.7,27.5,
26.9,28.6,24.6,33.6,27.2,31.7];
const midJune=[
26.6,28.3,30.4,25.9,31.9,27.2, 27.8,30.6,26.4,33.2,29.1,31.7, 28.4,32.6,30.9,27.3,34.6,33.5, 29.7,33.9,31.6,28.2,35.2,30.7,
30.2,34.7,32.1,29.3,36.2,33.2, 31.3,35.4,33.7,29.8,36.9,30.8, 30.6,34.6,32.9,29.5,35.7,31.9, 29.9,33.4,31.2,28.8,34.9,30.3,
30.1,33.7,31.9,29.4,35.2,30.7, 31.5,35.1,33.6,30.1,36.6,32.3, 30.9,35.6,33.1,29.9,36.2,32.5, 30.8,34.1,33.3,29.6,35.5,31.9,
30.3,34.7,32.7,29.8,35.9,31.4, 31.2,33.5,32.4,29.3,35.0,30.6, 30.7,34.8,33.1,29.7,36.4,31.8, 30.4,35.3,32.9,30.2,36.8,31.6,
31.6,34.2,33.5,29.6,35.4,30.9, 30.9,35.8,34.1,30.1,36.7,32.8, 31.4,34.5,33.4,29.9,36.1,30.6, 30.6,35.6,34.3,30.3,36.9,32.4,
30.2,33.9,32.6,29.5,35.1,31.3, 31.8,34.8,33.5,30.4,36.6,32.2, 30.7,35.9,34.5,29.8,37.3,31.5, 31.1,34.6,33.4,30.1,36.0,32.7,
30.8,35.4,34.2,29.9,36.3,31.9, 31.3,34.9,33.6,30.4,35.8,32.3, 30.5,33.8,34.4,29.7,36.6,31.7, 31.6,35.2,33.1,30.2,35.5,32.8,
30.3,34.3,33.3,29.8,35.9,31.1, 31.4,34.1,32.9,30.5,33.5,32.4];
// Metered in whole megawatts from March 2019: day numbers counted from 1 March
const upperLevels=[43,42,41,39,37,36,35,34,33,32,31,30,29,28,27,26,25,24,23,22,21,20];
const upperDays=[
[25],[25],[26],[26],[25],[21,26,40],[3,19,21,26,34],[19,20,21,25,26,31,42,55],
[3,4,10,11,20,21,25,26,27,30,32,34,39,42,45],
[0,3,5,6,8,9,10,11,12,19,20,22,23,24,25,27,28,30,31,32,33,35,38,39,41,42,47,68],
[0,1,3,4,5,6,7,8,9,10,11,12,13,14,15,16,21,22,23,24,25,27,28,29,30,31,32,33,34,35,37,38,39,40,41,42,43,45,47,54,68],
[0,1,2,4,5,6,7,8,10,11,12,13,14,15,16,17,18,19,20,22,23,24,25,26,27,28,32,33,34,35,37,39,40,42,43,44,45,46,48,55,58,68],
[0,1,2,3,6,7,8,9,10,11,12,13,14,15,16,17,18,19,20,23,24,27,28,29,31,32,33,34,35,38,39,40,41,42,43,44,45,46,47,48,49,54,55,56,57,58,68],
[0,1,2,3,4,5,6,7,8,9,10,11,12,14,15,16,17,18,19,20,21,23,24,25,26,28,29,30,31,32,33,34,35,37,38,39,40,41,42,43,44,45,46,47,48,52,53,56,58],
[0,1,2,3,4,5,6,7,8,9,10,11,12,13,14,15,16,17,18,19,20,21,22,23,24,26,27,28,29,30,31,32,33,34,35,36,38,39,40,41,42,43,44,45,46,47,48,49,50,51,52,53,54,56,57,58,68],
[0,1,2,3,4,5,6,7,8,9,11,12,13,15,16,17,18,19,20,21,22,23,24,25,26,27,28,29,30,31,32,33,34,35,36,38,39,40,42,43,44,45,46,47,48,49,50,51,52,53,54,55,56,57,58,68],
[0,1,2,4,5,6,7,8,9,11,12,13,14,15,16,19,20,21,22,23,24,27,28,29,30,31,32,38,41,46,47,48,49,50,51,52,53,54,56,57,58],
[2,3,7,9,10,12,13,14,16,17,18,19,30,46,49,50,51,52,53,54,55,56,57,70,81],
[10,17,18,53,54,55,60],[54,58,61],[26,62],[81]];
const lowerLevels=[18,17,16,15,14,13,12,11,10,9,8,7,6,1,0];
const lowerDays=[
[12,13,14,15,16,18,27,73],
[17,26,27,28,29,62,71,72,73,74,75,76,77,81,82],
[3,8,9,10,13,14,15,17,18,19,20,21,22,23,24,25,26,27,28,29,30,70,72,73,74,75,81,82,83,84,85,88],
[0,4,5,6,7,11,12,13,14,15,18,24,25,29,30,37,55,60,61,66,70,72,73,74,75,76,77,79,80,81,82,83,84,85,88,89],
[0,1,2,3,4,5,6,7,9,11,12,15,16,17,19,21,23,24,25,26,27,30,36,37,59,60,66,67,68,69,70,71,72,73,74,75,76,78,79,80,81,82,83,84,85,87,88,89,90,91],
[1,3,4,5,6,7,8,9,10,11,17,18,19,20,21,22,24,30,36,37,59,60,61,62,66,67,69,70,72,74,75,76,77,78,79,80,81,82,83,84,85,87,89,90,91],
[0,2,3,4,5,6,8,9,10,11,12,19,20,21,22,23,24,25,26,35,36,37,60,61,62,63,64,65,66,67,69,70,71,74,75,76,77,78,79,80,81,82,83,84,85,88,89,90,91],
[0,1,2,3,10,11,20,21,22,23,24,26,36,59,61,63,64,65,66,67,68,69,70,71,72,73,75,76,77,78,79,81,82,84,85,87,88,89,90,91],
[1,4,7,23,25,59,60,61,62,63,64,65,66,67,68,71,74,75,76,77,78,79,80,81,82,83,84,85,86,87,88,89,90,91],
[58,59,60,61,63,64,65,66,67,68,69,70,71,74,75,76,77,78,79,80,81,82,89,90,91],
[59,60,61,62,63,64,65,66,67,68,69,70,71,90,91],
[59,60,63,64,65,67,68,70,86],[63,64,65],[86,87],
[25,26,31,32,33,34,35,36,37,38,39,40,41,42,43,44,45,46,47,48,49,50,51,52,53,54,55,56,57,58,59,60,61,62,63,64,65,66,67,68,69,70,71,72,73,74,75,76,77,78,79,80,81,82,83,84,85,86,87,88,89,90,91]];
// Isolated readings: days from 1 July 2018, MW
const outlierDays=[93,95,94,94,94,94,94,81,103,109,109,114,130,137,145,168,180,180,180,194,194,194,197,358,358,358,362.6,358,362.6,81,88,94,95,92,94,95,96,97,97,98,99];
const outlierMW=[22,22,20,19.1,24,21,23,36.8,40.3,23,22.5,21.4,19.9,5.2,20.2,19.7,16,7.2,0.1,42.8,39.2,20.3,21.2,18.3,18.15,17.4,16.6,22.2,23.2,35.6,36.3,36.8,35.8,36.2,37.4,37.3,37,36.5,37.2,36.6,37];

const W=1251,H=657,L=57.5,R=1243,T=39.7,B=629.7;
const svg=d3.select("#c").append("svg").attr("width",W).attr("height",H);
svg.append("rect").attr("x",6.5).attr("y",2.5).attr("width",W).attr("height",H).attr("fill","#fff").attr("stroke","#d9d9d9");
const parse=d3.utcParse("%Y-%m-%d");
const tickDates=monthTicks.map(parse);
const x=d3.scaleUtc().domain([tickDates[0],tickDates[12]]).range([L,R]);
const y=d3.scaleLinear().domain([0,50]).range([B,T]);
const fmt=d3.utcFormat("%-m-%-d-%Y");
const dayMs=864e5;
const at=(start,d)=>new Date(+parse(start)+d*dayMs);

const gy=svg.append("g").attr("transform",`translate(${L},0)`)
 .call(d3.axisLeft(y).tickValues(yTicks).tickSize(-(R-L)).tickPadding(9));
gy.select(".domain").attr("stroke","#d9d9d9");
gy.selectAll("line").attr("stroke","#dcdcdc").attr("stroke-width",1.2);
gy.selectAll("text").attr("font-size",10.5).attr("fill","#595959");
const gx=svg.append("g").attr("transform",`translate(0,${B})`)
 .call(d3.axisBottom(x).tickValues(tickDates).tickFormat((d,i)=>i<12?fmt(d):"").tickSize(4).tickPadding(8));
gx.select(".domain").attr("stroke","#d0d0d0").attr("stroke-width",1.3);
gx.selectAll("line").attr("stroke","#d0d0d0").attr("stroke-width",1.2);
gx.selectAll("text").attr("font-size",10.5).attr("fill","#595959");
svg.append("g").selectAll("line").data(tickDates).join("line")
 .attr("x1",d=>x(d)).attr("x2",d=>x(d)).attr("y1",T).attr("y2",B)
 .attr("stroke","#dcdcdc").attr("stroke-width",1.2);
svg.append("text").attr("x",629).attr("y",23).attr("text-anchor","middle").attr("font-size",12.3).text(chartTitle);
svg.append("text").attr("transform","translate(31,335) rotate(-90)").attr("text-anchor","middle").attr("font-size",10.5).text("MW");

const points=[];
// Readings within a day are not in time order in the arrays; spread them across the day
[["2018-07-01",jul18],["2018-08-01",aug18],["2018-09-01",sep18],["2018-10-01",oct18],["2018-11-01",nov18],["2018-12-01",dec18],["2019-01-01",jan19],["2019-02-01",feb19],["2019-06-01",jun19]]
 .forEach(([start,rows])=>rows.forEach((row,d)=>row.forEach((v,i)=>points.push({t:at(start,d+((i*5)%row.length+.5)/row.length),v}))));
const addMid=(start,list)=>list.forEach((v,i)=>points.push({t:at(start,Math.floor(i/6)+((i%6)+.1)/6),v}));
addMid("2018-07-01",midFirstHalf);
addMid("2018-10-01",midSecondHalf);
addMid("2019-06-01",midJune);
upperLevels.forEach((lv,i)=>upperDays[i].forEach(d=>points.push({t:at("2019-03-01",d+.5),v:lv})));
lowerLevels.forEach((lv,i)=>lowerDays[i].forEach(d=>points.push({t:at("2019-03-01",d+.5),v:lv})));
outlierDays.forEach((d,i)=>points.push({t:at("2018-07-01",d+.4),v:outlierMW[i]}));
svg.append("g").selectAll("circle").data(points).join("circle")
 .attr("cx",d=>x(d.t)).attr("cy",d=>y(d.v)).attr("r",2.1).attr("fill","#4472C4");
</script></body></html>
